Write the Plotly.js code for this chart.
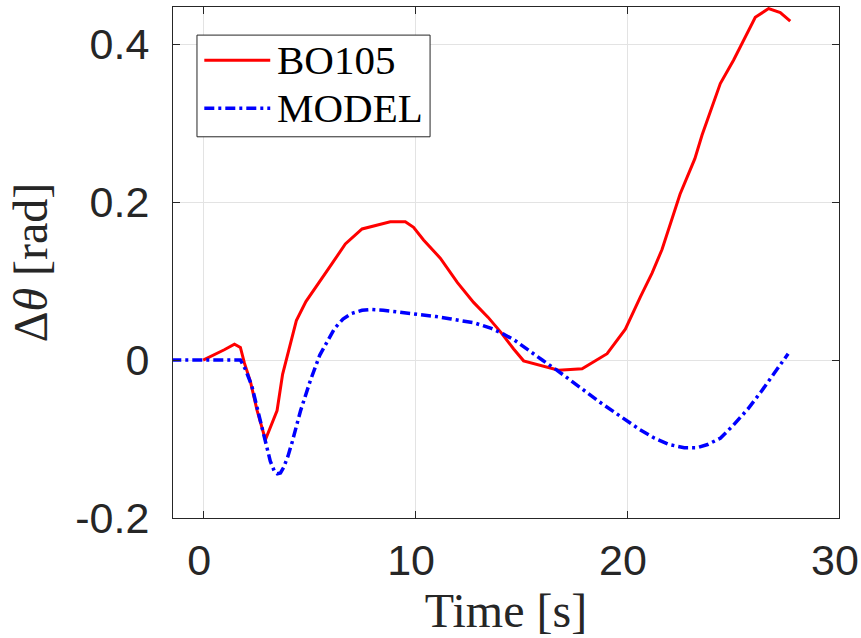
<!DOCTYPE html>
<html>
<head>
<meta charset="utf-8">
<script src="https://cdn.plot.ly/plotly-3.0.1.min.js"></script>
<style>html,body{margin:0;padding:0;background:#fff;}#chart{width:861px;height:638px;}</style>
</head>
<body>
<div id="chart"></div>
<script>
// BO105 flight data
const bo105Time = [0, 0.5, 1.0, 1.48, 1.76, 1.95, 2.23, 2.55, 2.94, 3.49, 3.75, 4.4, 4.85, 6.08, 6.71, 7.5, 8.2, 8.83, 9.54, 9.93, 10.4, 11.19, 12.0, 12.76, 13.45, 14.05, 14.65, 15.12, 16.77, 17.88, 19.06, 19.92, 20.63, 21.18, 21.65, 22.12, 22.5, 23.2, 23.54, 24.4, 25.03, 26.05, 26.68, 27.23, 27.7];
const bo105Theta = [0, 0.006, 0.013, 0.020, 0.016, -0.004, -0.027, -0.064, -0.101, -0.064, -0.018, 0.050, 0.074, 0.122, 0.147, 0.166, 0.171, 0.175, 0.175, 0.168, 0.152, 0.129, 0.098, 0.073, 0.054, 0.035, 0.014, -0.001, -0.013, -0.011, 0.008, 0.039, 0.080, 0.110, 0.140, 0.178, 0.210, 0.255, 0.285, 0.350, 0.380, 0.434, 0.445, 0.440, 0.429];
// Model simulation
const modelTime = [-1.5, 0, 1, 1.76, 2.0, 2.3, 2.6, 2.94, 3.17, 3.35, 3.5, 3.65, 3.8, 4.0, 4.2, 4.6, 5.06, 5.5, 5.85, 6.2, 6.6, 7.0, 7.5, 7.9, 8.5, 9.2, 10.0, 11.0, 11.7, 12.8, 13.6, 14.1, 14.7, 15.3, 16.0, 16.7, 17.4, 18.0, 18.7, 19.4, 20.0, 20.6, 21.3, 22.0, 22.7, 23.3, 23.8, 24.4, 25.0, 25.7, 26.3, 27.0, 27.6];
const modelTheta = [0, 0, 0, 0, -0.012, -0.033, -0.066, -0.102, -0.128, -0.140, -0.144, -0.143, -0.136, -0.122, -0.104, -0.064, -0.026, 0.006, 0.024, 0.040, 0.052, 0.059, 0.063, 0.064, 0.063, 0.061, 0.058, 0.055, 0.052, 0.047, 0.040, 0.034, 0.025, 0.013, 0.000, -0.013, -0.027, -0.040, -0.053, -0.066, -0.077, -0.088, -0.099, -0.107, -0.111, -0.111, -0.107, -0.099, -0.083, -0.062, -0.041, -0.015, 0.008];
const seriesNames = ['BO105', 'MODEL'];
const xTicks = [0, 10, 20, 30];
const yTicks = [-0.2, 0, 0.2, 0.4];
const yTickText = ['-0.2', '0', '0.2', '0.4'];

const RED = '#ff0000', BLUE = '#0000ff', AX = '#262626';
const blueDash = '10px,4px,3px,4px';

const traces = [
  {x: bo105Time, y: bo105Theta, name: seriesNames[0], mode: 'lines', line: {color: RED, width: 3}, showlegend: false},
  {x: modelTime, y: modelTheta, name: seriesNames[1], mode: 'lines', line: {color: BLUE, width: 3.5, dash: blueDash}, showlegend: false}
];

const serif = "'Liberation Serif', 'DejaVu Serif', serif";
const sans = "'Liberation Sans', Arial, sans-serif";

const axisCommon = {
  showline: true, linecolor: AX, linewidth: 1, mirror: 'ticks',
  ticks: 'inside', ticklen: 7, tickcolor: AX, tickwidth: 1,
  showgrid: true, gridcolor: '#e3e3e3', gridwidth: 1,
  zeroline: false,
  tickfont: {family: sans, size: 43, color: AX}
};

// Legend drawn in paper coordinates
const lx0 = 0.036, lx1 = 0.386, ly0 = 0.746, ly1 = 0.945;
const sx0 = 0.047, sx1 = 0.146, tx = 0.1535;
const yRow = [0.896, 0.802];

const layout = {
  width: 861, height: 638,
  margin: {l: 173, r: 22, t: 7, b: 120},
  paper_bgcolor: '#fff', plot_bgcolor: '#fff',
  showlegend: false,
  xaxis: Object.assign({}, axisCommon, {
    range: [-1.42, 30], tickvals: xTicks, ticktext: xTicks.map(String),
    ticklabelshift: -4, ticklabelstandoff: 4,
    title: {text: 'Time [s]', font: {family: serif, size: 48, color: AX}, standoff: 8}
  }),
  yaxis: Object.assign({}, axisCommon, {
    range: [-0.2, 0.447], tickvals: yTicks, ticktext: yTickText,
    ticklabelstandoff: 14,
    title: {text: 'Δ<i>θ</i> [rad]', font: {family: serif, size: 48, color: AX}, standoff: 12}
  }),
  shapes: [
    {type: 'rect', xref: 'paper', yref: 'paper', x0: lx0, x1: lx1, y0: ly0, y1: ly1, line: {color: AX, width: 1}, fillcolor: '#fff', layer: 'above'},
    {type: 'line', xref: 'paper', yref: 'paper', x0: sx0, x1: sx1, y0: yRow[0], y1: yRow[0], line: {color: RED, width: 3}, layer: 'above'},
    {type: 'line', xref: 'paper', yref: 'paper', x0: sx0, x1: sx1, y0: yRow[1], y1: yRow[1], line: {color: BLUE, width: 3.5, dash: blueDash}, layer: 'above'}
  ],
  annotations: seriesNames.map((n, i) => ({
    text: n, xref: 'paper', yref: 'paper', x: tx, y: yRow[i], xanchor: 'left', yanchor: 'middle',
    showarrow: false, font: {family: serif, size: 41, color: '#000'}
  }))
};

Plotly.newPlot('chart', traces, layout, {staticPlot: true, displayModeBar: false});
</script>
</body>
</html>
